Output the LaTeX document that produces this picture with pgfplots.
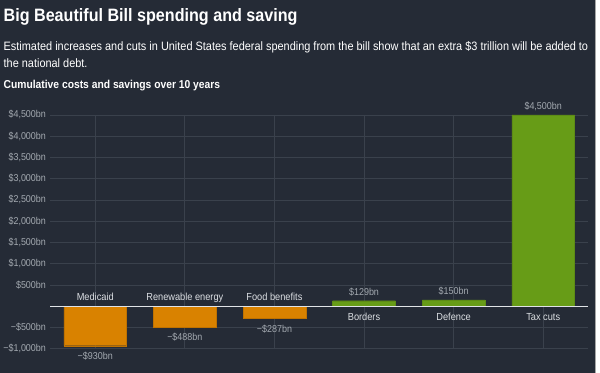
\documentclass[border=0pt]{standalone}
\usepackage{fontspec}
\setmainfont[FakeStretch=0.9]{Liberation Sans}
\usepackage{pgfplots}
\pgfplotsset{compat=1.18}
\definecolor{bg}{HTML}{252B36}
\definecolor{gridc}{HTML}{3A414C}
\definecolor{tickc}{HTML}{A3A9B0}
\definecolor{labc}{HTML}{DDE0E4}
\definecolor{orangebar}{HTML}{D98200}
\definecolor{greenbar}{HTML}{679C17}
\begin{document}
\begin{tikzpicture}[x=1bp,y=1bp]
\fill[bg] (0,0) rectangle (600,373);
\fill[white] (596,0) rectangle (600,373);
\fill[gray!70] (595,0) rectangle (596.2,373);
\node[anchor=base west, text=white, font=\fontsize{18}{20}\selectfont\bfseries, inner sep=0] at (3,351) {Big Beautiful Bill spending and saving};
\node[anchor=base west, text=white, font=\fontsize{12.2}{17.5}\selectfont, inner sep=0, align=left] at (3,305) {Estimated increases and cuts in United States federal spending from the bill show that an extra \$3 trillion will be added to\\ the national debt.};
\node[anchor=base west, text=white, font=\fontsize{11.5}{13}\selectfont\bfseries, inner sep=0] at (3,284) {Cumulative costs and savings over 10 years};
\begin{axis}[
  at={(50bp,24bp)}, anchor=south west,
  scale only axis, width=538bp, height=234bp,
  xmin=-0.5, xmax=5.5, ymin=-1000, ymax=4500,
  axis line style={draw=none},
  xtick={0,...,5}, xticklabels={},
  ytick={-1000,-500,500,1000,1500,2000,2500,3000,3500,4000,4500},
  yticklabels={{−\$1,000bn},{−\$500bn},{\$500bn},{\$1,000bn},{\$1,500bn},{\$2,000bn},{\$2,500bn},{\$3,000bn},{\$3,500bn},{\$4,000bn},{\$4,500bn}},
  yticklabel style={text=tickc, font=\fontsize{10}{12}\selectfont, xshift=-1bp},
  xmajorgrids, ymajorgrids,
  major grid style={gridc, line width=0.8bp},
  major tick length=0pt,
  clip=false,
  ybar, bar width=0.7,
  nodes near coords,
  point meta=explicit symbolic,
  every node near coord/.append style={text=tickc, font=\fontsize{10}{12}\selectfont},
]
\addplot[bar shift=0, fill=orangebar, draw=orangebar!88!black, every node near coord/.append style={anchor=north, yshift=-3bp}] coordinates {(0,-930) [{−\$930bn}] (1,-488) [{−\$488bn}] (2,-287) [{−\$287bn}]};
\addplot[bar shift=0, fill=greenbar, draw=greenbar!90!black, every node near coord/.append style={yshift=1bp}] coordinates {(3,129) [{\$129bn}] (4,150) [{\$150bn}] (5,4500) [{\$4,500bn}]};
\draw[labc!90!white, line width=1.3bp] (axis cs:-0.5,0) -- (axis cs:5.5,0);
\node[text=labc, font=\fontsize{10.3}{12}\selectfont, anchor=base, yshift=6bp] at (axis cs:0,0) {Medicaid};
\node[text=labc, font=\fontsize{10.3}{12}\selectfont, anchor=base, yshift=6bp] at (axis cs:1,0) {Renewable energy};
\node[text=labc, font=\fontsize{10.3}{12}\selectfont, anchor=base, yshift=6bp] at (axis cs:2,0) {Food benefits};
\node[text=labc, font=\fontsize{10.3}{12}\selectfont, anchor=base, yshift=-14bp] at (axis cs:3,0) {Borders};
\node[text=labc, font=\fontsize{10.3}{12}\selectfont, anchor=base, yshift=-14bp] at (axis cs:4,0) {Defence};
\node[text=labc, font=\fontsize{10.3}{12}\selectfont, anchor=base, yshift=-14bp] at (axis cs:5,0) {Tax cuts};
\end{axis}
\end{tikzpicture}
\end{document}
